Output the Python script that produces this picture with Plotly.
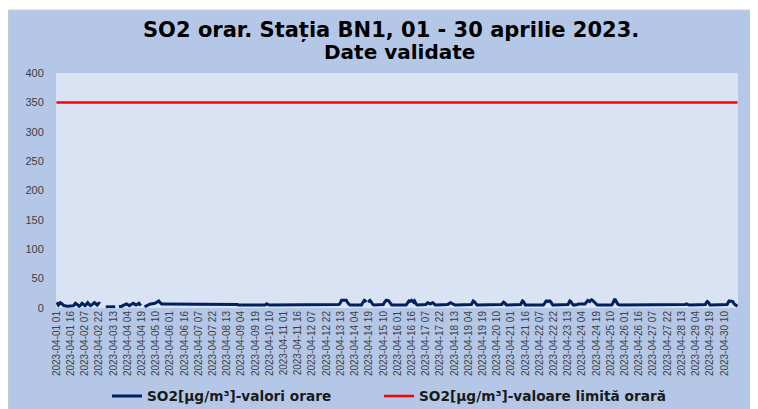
import plotly.graph_objects as go

# Hourly SO2 values (µg/m³), one list per day (hours 01..24); None = missing
day01 = [9, 8, 5, 7, 9, 8, 6, 5, 4, 4, 3, 3, 3, 3, 3, 3, 3, 3, 4, 6, 8, 7, 5, 4]
day02 = [3, 4, 6, 8, 7, 5, 4, 5, 8, 9, 7, 5, 4, 5, 7, 9, 9, 8, 6, 5, 7, 8, 7, None]
day03 = [None, None, None, None, 2, 2, 2, 3, 3, 2, 2, 2, 3, 3, 2, None, None, None, 2, 2, 3, 3, 4, 5]
day04 = [5, 6, 7, 6, 5, 4, 5, 6, 7, 8, 7, 6, 5, 6, 7, 8, 6, 4, None, None, None, 2, 3, 4]
day05 = [5, 6, 7, 7, 7, 7, 7, 7, 8, 9, 10, 11, 12, 10, 8, 7, 7, 7, 7, 7, 6, 6, 6, 6]
day06 = [6, 6, 6, 6, 6, 6, 7, 7, 6, 6, 6, 6, 6, 6, 7, 7, 7, 6, 6, 6, 6, 6, 6, 6]
day07 = [6, 6, 6, 6, 6, 6, 6, 6, 6, 7, 7, 7, 6, 6, 6, 6, 6, 6, 6, 6, 6, 6, 6, 6]
day08 = [6, 6, 6, 6, 6, 6, 6, 6, 6, 6, 6, 6, 6, 6, 6, 7, 6, 6, 6, 6, 6, 6, 6, 6]
day09 = [5, 5, 5, 5, 5, 5, 5, 5, 5, 5, 5, 5, 5, 5, 5, 5, 5, 4, 4, 4, 4, 5, 5, 5]
day10 = [5, 5, 5, 5, 5, 6, 7, 6, 5, 5, 5, 5, 5, 5, 5, 5, 5, 5, 6, 6, 6, 6, 6, 6]
day11 = [6, 6, 6, 6, 6, 6, 6, 6, 6, 6, 6, 6, 6, 6, 6, 6, 6, 6, 6, 6, 6, 6, 6, 6]
day12 = [6, 6, 6, 6, 6, 6, 6, 6, 6, 6, 6, 6, 6, 6, 6, 6, 6, 6, 6, 6, 6, 6, 6, 6]
day13 = [6, 6, 6, 6, 6, 6, 6, 6, 6, 6, 6, 7, 10, 13, 13, 13, 12, 12, 13, 10, 7, 6, 5, 5]
day14 = [5, 5, 5, 5, 5, 5, 5, 5, 5, 5, 5, 8, 12, 13, 12, 10, None, 10, 12, 13, 11, 8, 6, 5]
day15 = [5, 5, 5, 5, 5, 5, 5, 5, 5, 6, 9, 12, 13, 13, 12, 12, 9, 6, 5, 5, 5, 5, 5, 5]
day16 = [5, 5, 5, 5, 5, 5, 5, 5, 5, 5, 7, 10, 12, 11, 13, 13, 12, 10, 12, 8, 6, 5, 5, 5]
day17 = [5, 5, 5, 5, 5, 5, 6, 8, 9, 8, 7, 7, 8, 9, 8, 6, 5, 5, 5, 5, 5, 5, 5, 5]
day18 = [5, 5, 5, 5, 5, 6, 7, 8, 9, 8, 7, 6, 5, 5, 5, 5, 5, 5, 5, 5, 5, 5, 5, 5]
day19 = [5, 5, 5, 5, 5, 5, 6, 9, 12, 11, 9, 6, 5, 5, 5, 5, 5, 5, 5, 5, 5, 5, 5, 5]
day20 = [5, 5, 5, 5, 5, 5, 5, 5, 5, 5, 5, 5, 5, 5, 6, 8, 10, 9, 6, 5, 5, 5, 5, 5]
day21 = [5, 5, 5, 5, 5, 5, 5, 5, 5, 5, 6, 9, 12, 11, 7, 5, 5, 5, 5, 5, 5, 5, 5, 5]
day22 = [5, 5, 5, 5, 5, 5, 5, 5, 5, 5, 5, 7, 10, 12, 12, 11, 12, 12, 10, 7, 5, 5, 5, 5]
day23 = [5, 5, 5, 5, 5, 5, 5, 5, 5, 5, 5, 5, 6, 9, 12, 11, 8, 6, 5, 5, 5, 5, 6, 7]
day24 = [7, 6, 6, 6, 6, 6, 7, 9, 12, 13, 12, 11, 13, 14, 13, 11, 9, 7, 6, 5, 5, 5, 5, 5]
day25 = [5, 5, 5, 5, 5, 5, 5, 5, 5, 5, 5, 7, 11, 14, 14, 12, 8, 6, 5, 5, 5, 5, 5, 5]
day26 = [5, 5, 5, 5, 5, 5, 5, 5, 5, 5, 5, 5, 5, 5, 5, 5, 5, 5, 5, 5, 5, 5, 5, 5]
day27 = [5, 5, 5, 5, 5, 5, 5, 5, 5, 5, 5, 5, 5, 5, 5, 5, 5, 5, 5, 5, 5, 5, 5, 5]
day28 = [5, 5, 5, 5, 5, 5, 5, 5, 5, 5, 5, 5, 5, 5, 5, 5, 6, 7, 6, 5, 5, 5, 5, 5]
day29 = [5, 5, 5, 5, 5, 5, 5, 5, 5, 5, 5, 5, 5, 6, 9, 11, 10, 7, 5, 5, 5, 5, 5, 5]
day30 = [5, 5, 5, 5, 5, 5, 5, 5, 5, 5, 5, 5, 6, 9, 12, 12, 12, 12, 11, 8, 6, 5, 4, 3]

days = [day01, day02, day03, day04, day05, day06, day07, day08, day09, day10,
        day11, day12, day13, day14, day15, day16, day17, day18, day19, day20,
        day21, day22, day23, day24, day25, day26, day27, day28, day29, day30]

limit_value = 350  # hourly limit value
y_ticks = [0, 50, 100, 150, 200, 250, 300, 350, 400]
title_line1 = "SO2 orar. Stația BN1, 01 - 30 aprilie 2023."
title_line2 = "Date validate"

# categories: "2023-04-DD HH", hours 01..24
categories = []
values = []
for d, vals in enumerate(days, start=1):
    for h, v in enumerate(vals, start=1):
        categories.append(f"2023-04-{d:02d} {h:02d}")
        values.append(v)

tick_labels = categories[::15]
limit_series = [limit_value] * len(categories)

FONT = "Arial, 'Liberation Sans', sans-serif"
WIDE = "'DejaVu Sans', Arial, sans-serif"
OFF = 8                      # page offset of the figure inside the window
W, H = 758, 409
# plot area in window pixels
PL, PR, PT, PB = 56, 738, 73, 308
ML, MR, MT, MB = PL - OFF, W - (PR - OFF), PT - OFF, H - (PB - OFF)
PW, PH = PR - PL, PB - PT

def px_x(xw):
    return (xw - PL) / PW

def px_y(yw):
    return (PB - yw) / PH

fig = go.Figure()
fig.add_trace(go.Scatter(
    x=categories, y=values, mode="lines",
    line=dict(color="#002060", width=3),
    connectgaps=False,
    name="SO2[µg/m³]-valori orare",
    legend="legend",
))
fig.add_trace(go.Scatter(
    x=categories, y=limit_series, mode="lines",
    line=dict(color="#FF0000", width=2.5),
    name="SO2[µg/m³]-valoare limită orară",
    legend="legend2",
))

shapes = [
    dict(type="rect", xref="paper", yref="paper", layer="below",
         x0=px_x(8), x1=px_x(W + 20), y0=px_y(H + 20), y1=px_y(10),
         fillcolor="#B4C7E7", line=dict(color="#D0D0D0", width=1)),
    dict(type="rect", xref="paper", yref="paper", layer="below",
         x0=0, x1=1, y0=0, y1=1, fillcolor="#DAE3F3", line=dict(width=0)),
]

annotations = [
    dict(text=title_line1, xref="paper", yref="paper",
         x=px_x(391), y=px_y(30), xanchor="center", yanchor="middle",
         showarrow=False,
         font=dict(family=WIDE, size=21, color="#000000", weight="bold")),
    dict(text=title_line2, xref="paper", yref="paper",
         x=px_x(399), y=px_y(52), xanchor="center", yanchor="middle",
         showarrow=False,
         font=dict(family=WIDE, size=20, color="#000000", weight="bold")),
]

legend_style = dict(
    orientation="h", xanchor="left", yanchor="middle",
    font=dict(family=WIDE, size=13.7, color="#1A1A1A", weight="bold"),
    bgcolor="rgba(0,0,0,0)", itemwidth=30,
)

fig.update_layout(
    width=W, height=H,
    margin=dict(l=ML, r=MR, t=MT, b=MB, autoexpand=False),
    paper_bgcolor="white",
    plot_bgcolor="rgba(0,0,0,0)",
    shapes=shapes,
    annotations=annotations,
    xaxis=dict(
        type="category",
        tickmode="array", tickvals=tick_labels, ticktext=tick_labels,
        tickangle=-90,
        tickfont=dict(family=FONT, size=10, color="#404040"),
        showgrid=False, zeroline=False, showline=False,
        ticks="", range=[-0.5, len(categories) - 0.5],
        automargin=False,
    ),
    yaxis=dict(
        range=[0, 400], tickvals=y_ticks,
        tickfont=dict(family=FONT, size=11, color="#404040"),
        showgrid=False, zeroline=False, showline=False,
        ticks="outside", ticklen=9, tickcolor="rgba(0,0,0,0)",
        automargin=False,
    ),
    showlegend=True,
    legend=dict(x=px_x(107), y=px_y(396), **legend_style),
    legend2=dict(x=px_x(379), y=px_y(396), **legend_style),
)

fig.write_html("out.html")
